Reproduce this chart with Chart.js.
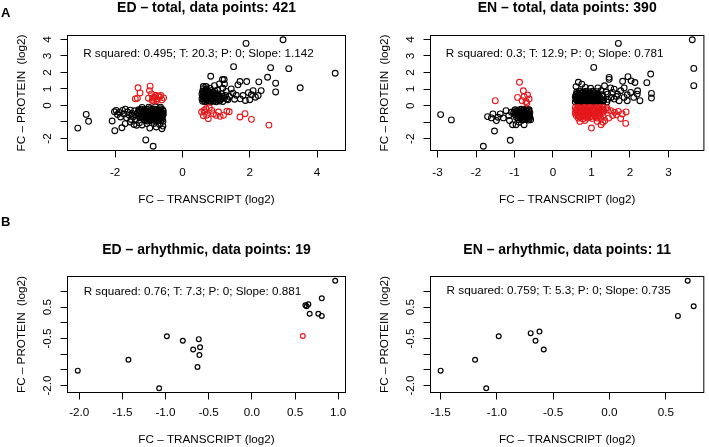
<!DOCTYPE html>
<html><head><meta charset="utf-8">
<script src="https://cdn.jsdelivr.net/npm/chart.js@4.4.1/dist/chart.umd.min.js"></script>
<style>
html,body{margin:0;padding:0;background:#fff;}
#wrap{position:relative;width:709px;height:447px;overflow:hidden;}
#wrap canvas{position:absolute;left:0;top:0;}
</style></head><body>
<div id="wrap">
<canvas id="c1" width="709" height="447"></canvas>
<canvas id="c2" width="709" height="447"></canvas>
<canvas id="c3" width="709" height="447"></canvas>
<canvas id="c4" width="709" height="447"></canvas>
</div>
<script>
// ---------- DATA (FC transcript log2, FC protein log2) ----------
const edTotalBlack = [
[-3.11,-1.37],[-2.86,-0.54],[-2.79,-0.96],[-2.09,-0.94],[-2.01,-1.53],[-1.80,-1.35],[-1.09,-2.09],[-0.87,-2.47],
[-2.02,-0.38],[-1.97,-0.3],[-1.93,-0.55],[-1.88,-0.42],[-1.84,-0.7],[-1.78,-0.3],[-1.74,-0.52],[-1.7,-0.22],[-1.66,-0.75],[-1.63,-0.4],[-1.58,-0.6],[-1.55,-0.28],[-1.52,-0.85],[-1.5,-0.48],[-1.46,-0.68],[-1.44,-1.15],[-1.42,-0.32],[-1.4,-0.9],[-1.38,-0.55],[-1.36,-1.2],[-1.7,-1.1],[-1.55,-1.0],[-1.28,-1.05],[-1.2,-1.18],
[-1.3,-0.26],[-1.22,-0.22],[-1.14,-0.27],[-1.06,-0.24],[-0.98,-0.2],[-0.9,-0.25],[-0.82,-0.22],[-0.74,-0.27],[-0.66,-0.2],[-0.59,-0.25],
[-1.28,-0.33],[-1.2,-0.35],[-1.12,-0.32],[-1.04,-0.34],[-0.96,-0.31],[-0.88,-0.35],[-0.8,-0.32],[-0.72,-0.34],[-0.64,-0.31],[-0.57,-0.35],
[-1.33,-0.44],[-1.26,-0.4],[-1.18,-0.45],[-1.1,-0.41],[-1.02,-0.43],[-0.94,-0.4],[-0.86,-0.44],[-0.78,-0.41],[-0.7,-0.45],[-0.62,-0.42],
[-1.28,-0.5],[-1.2,-0.52],[-1.12,-0.49],[-1.04,-0.51],[-0.96,-0.5],[-0.88,-0.52],[-0.8,-0.49],[-0.72,-0.51],[-0.64,-0.5],[-0.57,-0.52],
[-1.3,-0.6],[-1.22,-0.57],[-1.14,-0.61],[-1.06,-0.58],[-0.98,-0.6],[-0.9,-0.56],[-0.82,-0.6],[-0.74,-0.57],[-0.66,-0.61],[-0.58,-0.58],
[-1.24,-0.67],[-1.16,-0.69],[-1.08,-0.66],[-1.0,-0.68],[-0.92,-0.66],[-0.84,-0.69],[-0.76,-0.66],[-0.68,-0.68],[-0.6,-0.67],
[-1.27,-0.74],[-1.18,-0.77],[-1.1,-0.73],[-1.02,-0.76],[-0.94,-0.74],[-0.86,-0.78],[-0.78,-0.74],[-0.7,-0.77],[-0.62,-0.74],
[-1.08,-0.84],[-1.0,-0.83],[-0.92,-0.85],[-0.84,-0.83],[-0.76,-0.85],[-0.68,-0.83],[-0.6,-0.85],
[-1.12,-0.9],[-1.04,-0.94],[-0.96,-0.91],[-0.88,-0.95],[-0.8,-0.9],[-0.72,-0.93],[-0.64,-0.9],[-0.58,-0.96],
[-1.0,-0.1],[-0.8,-0.08],[-0.65,-0.1],[-1.2,-0.12],
[-0.97,-1.37],[-0.61,-1.41],[-0.68,-1.15],[-1.06,-1.1],[-0.85,-1.1],[-0.58,-1.25],[-0.78,-1.3],
[2.99,3.98],[1.89,3.76],[4.54,1.95],[3.50,1.07],[3.16,2.23],[2.62,2.29],[1.52,2.35],[2.53,1.71],[0.84,1.77],[2.77,1.35],[2.77,0.82],[2.27,1.43],[2.34,0.90],[1.91,1.45],[1.71,1.45],[1.19,1.57],[1.24,1.57],[1.10,1.31],[1.65,1.25],[1.96,0.78],[2.17,0.50],[1.87,0.30],[1.72,0.4],[1.6,0.62],[1.5,0.75],[1.4,0.55],[1.8,0.6],[2.05,0.65],[2.25,0.6],[1.3,0.85],[1.45,1.0],[1.2,1.05],[1.35,0.35],[1.55,0.38],[2.0,0.35],[2.1,0.9],[1.25,1.3],[0.95,1.2],[0.7,1.15],[0.62,1.15],
[0.6,0.25],[0.68,0.22],[0.76,0.27],[0.84,0.23],[0.92,0.26],[1.0,0.22],[1.1,0.27],[1.2,0.24],
[0.64,0.32],[0.72,0.33],[0.8,0.31],[0.88,0.33],[0.96,0.31],[1.04,0.33],[1.12,0.32],
[0.58,0.4],[0.66,0.42],[0.74,0.38],[0.82,0.41],[0.9,0.39],[0.98,0.42],[1.06,0.38],[1.14,0.41],[1.24,0.43],[1.32,0.4],
[0.62,0.48],[0.7,0.47],[0.78,0.49],[0.86,0.47],[0.94,0.48],[1.02,0.46],[1.1,0.49],
[0.6,0.55],[0.68,0.53],[0.76,0.57],[0.84,0.54],[0.92,0.56],[1.0,0.53],[1.08,0.57],[1.18,0.55],[1.28,0.6],
[0.64,0.63],[0.72,0.62],[0.8,0.64],[0.88,0.62],[0.96,0.63],[1.04,0.62],
[0.58,0.7],[0.66,0.72],[0.74,0.68],[0.82,0.71],[0.9,0.69],[0.98,0.73],[1.06,0.7],[1.16,0.72],
[0.62,0.79],[0.7,0.8],[0.8,0.78],[0.9,0.8],
[0.6,0.87],[0.68,0.9],[0.76,0.86],[0.86,0.9],[0.96,0.88],[1.05,0.92],[0.62,1.02],[0.72,1.0],[0.82,1.05]
];
const edTotalRed = [
[-1.32,1.07],[-1.26,0.76],[-1.34,0.44],[-1.40,0.40],[-0.96,1.17],[-0.92,0.70],[-1.01,0.44],[-0.98,0.9],[-0.88,0.45],
[-0.84,0.5],[-0.76,0.40],[-0.68,0.5],[-0.61,0.34],[-0.56,0.46],[-0.86,0.26],[-0.76,0.3],[-0.72,0.58],[-0.64,0.6],[-0.8,0.62],[-0.9,0.32],
[0.67,-0.40],[0.72,-0.6],[0.77,-0.80],[0.64,-0.3],[0.87,-0.3],[1.0,-0.6],[1.12,-0.66],[1.22,-0.6],[1.32,-0.34],[1.39,-0.38],
[1.71,-0.70],[1.86,-0.50],[2.05,-0.84],[2.57,-1.19],[0.57,-0.4],[0.8,-0.14],[0.92,-0.5],[1.07,-0.4],[0.62,-0.62],[0.7,-0.2]
];
const enTotalBlack = [
[-2.92,-0.54],[-2.64,-0.86],[-1.52,-1.53],[-1.81,-2.45],[-1.11,-2.09],
[-1.70,-0.66],[-1.6,-0.74],[-1.56,-0.5],[-1.43,-0.7],[-1.37,-0.5],[-1.29,-0.74],[-1.22,-0.3],[-1.15,-0.6],[-1.08,-0.4],[-1.05,-1.15],[-0.96,-1.15],[-0.88,-1.0],[-0.75,-1.15],[-0.58,-0.85],[-1.47,-0.9],[-1.13,-0.9],[-1.0,-0.3],
[-0.98,-0.24],[-0.9,-0.28],[-0.83,-0.22],[-0.76,-0.26],[-0.69,-0.2],[-0.62,-0.25],
[-0.94,-0.32],[-0.86,-0.33],[-0.78,-0.31],[-0.7,-0.33],[-0.63,-0.32],
[-1.02,-0.42],[-0.95,-0.38],[-0.88,-0.43],[-0.81,-0.39],[-0.74,-0.42],[-0.67,-0.38],[-0.6,-0.42],
[-0.94,-0.48],[-0.86,-0.47],[-0.78,-0.49],[-0.7,-0.47],[-0.63,-0.48],
[-0.98,-0.56],[-0.91,-0.53],[-0.84,-0.57],[-0.77,-0.54],[-0.7,-0.58],[-0.63,-0.55],
[-0.92,-0.63],[-0.84,-0.62],[-0.76,-0.64],[-0.68,-0.62],[-0.61,-0.63],
[-0.95,-0.72],[-0.88,-0.68],[-0.81,-0.72],[-0.74,-0.69],[-0.67,-0.73],[-0.6,-0.7],
[-0.85,-0.78],[-0.77,-0.79],[-0.69,-0.78],[-0.62,-0.8],
[-0.9,-0.84],[-0.8,-0.88],[-0.72,-0.84],[-0.64,-0.87],
[1.70,3.76],[3.62,3.98],[3.66,2.25],[3.66,1.21],[1.06,2.31],[2.54,1.91],[2.44,1.39],[2.56,0.74],[2.56,0.46],[2.26,0.30],[2.20,0.9],[1.95,1.75],[2.03,1.5],[2.13,1.4],[1.81,1.47],[1.46,1.71],[1.46,1.59],
[0.66,1.41],[0.75,1.3],[0.84,1.1],[0.98,1.05],[1.17,1.07],[1.34,1.2],[1.5,1.07],[0.6,1.15],
[1.59,1.0],[1.68,0.7],[1.76,0.9],[1.85,0.5],[1.93,0.66],[2.02,0.8],[2.1,0.5],[1.85,1.07],[1.72,0.3],[1.59,0.4],[1.51,0.5],[1.42,0.7],[1.93,0.3],[2.19,0.7],[1.55,0.8],[1.65,0.55],
[0.58,0.22],[0.65,0.2],[0.72,0.24],[0.79,0.21],[0.86,0.23],[0.93,0.2],[1.0,0.24],[1.07,0.21],[1.14,0.23],[1.22,0.2],[1.3,0.25],[1.4,0.22],
[0.62,0.3],[0.7,0.29],[0.78,0.31],[0.86,0.3],[0.94,0.29],[1.02,0.31],[1.1,0.3],[1.2,0.29],[1.3,0.31],
[0.6,0.37],[0.67,0.39],[0.74,0.35],[0.81,0.38],[0.88,0.36],[0.95,0.39],[1.02,0.35],[1.09,0.38],[1.16,0.36],[1.24,0.39],[1.32,0.35],[1.42,0.38],
[0.62,0.45],[0.7,0.44],[0.78,0.46],[0.86,0.44],[0.94,0.45],[1.02,0.44],[1.1,0.46],[1.2,0.45],
[0.58,0.52],[0.65,0.5],[0.72,0.54],[0.79,0.51],[0.86,0.53],[0.93,0.5],[1.0,0.54],[1.07,0.51],[1.14,0.53],[1.22,0.5],[1.3,0.55],
[0.62,0.6],[0.7,0.59],[0.78,0.61],[0.86,0.59],[0.94,0.6],[1.04,0.59],[1.14,0.61],
[0.6,0.67],[0.67,0.69],[0.74,0.65],[0.81,0.68],[0.88,0.66],[0.95,0.69],[1.02,0.65],[1.1,0.68],[1.18,0.7],[1.28,0.66],
[0.64,0.76],[0.74,0.75],[0.84,0.77],[0.94,0.76],[1.06,0.77],
[0.62,0.85],[0.7,0.88],[0.78,0.83],[0.86,0.87],[0.95,0.84],[1.04,0.88],[1.14,0.85],[1.25,0.9],[1.38,0.82]
];
const enTotalRed = [
[-1.50,0.30],[-0.87,1.41],[-0.77,0.90],[-0.92,0.50],[-0.66,0.64],[-0.62,0.4],[-0.8,0.3],[-0.7,0.25],[-0.75,0.55],[-0.68,0.15],
[0.58,-0.12],[0.66,-0.1],[0.74,-0.14],[0.82,-0.11],[0.9,-0.13],[0.98,-0.1],[1.06,-0.14],[1.14,-0.11],[1.22,-0.13],[1.3,-0.1],[1.4,-0.14],
[0.62,-0.2],[0.7,-0.19],[0.78,-0.21],[0.86,-0.2],[0.94,-0.19],[1.02,-0.21],[1.1,-0.2],[1.2,-0.19],[1.3,-0.21],
[0.6,-0.28],[0.68,-0.3],[0.76,-0.26],[0.84,-0.29],[0.92,-0.27],[1.0,-0.3],[1.08,-0.26],[1.16,-0.29],[1.24,-0.27],[1.32,-0.3],[1.42,-0.26],[1.5,-0.3],
[0.62,-0.36],[0.7,-0.35],[0.78,-0.37],[0.86,-0.35],[0.94,-0.36],[1.04,-0.35],[1.14,-0.37],[1.26,-0.36],
[0.58,-0.44],[0.66,-0.42],[0.74,-0.46],[0.82,-0.43],[0.9,-0.45],[0.98,-0.42],[1.06,-0.46],[1.14,-0.43],[1.22,-0.45],[1.3,-0.42],
[0.64,-0.52],[0.72,-0.51],[0.8,-0.53],[0.88,-0.51],[0.96,-0.52],[1.06,-0.51],[1.16,-0.53],
[0.6,-0.6],[0.68,-0.62],[0.76,-0.58],[0.84,-0.61],[0.92,-0.59],[1.0,-0.62],[1.1,-0.58],[1.2,-0.61],[1.3,-0.6],
[0.7,-0.68],[0.82,-0.69],[0.96,-0.68],[1.1,-0.69],
[0.66,-0.76],[0.78,-0.8],[0.9,-0.75],[1.02,-0.78],[1.15,-0.75],[1.25,-0.8],
[1.0,-1.35],[1.25,-1.15],[1.89,-1.07],[1.76,-0.78],[1.8,-0.5],[1.7,-0.35],[1.6,-0.4],[1.55,-0.6],[1.65,-0.55],[1.45,-0.75],[1.35,-0.9],[0.83,-0.9],[0.7,-0.95],[1.15,-0.95],[1.9,-0.38],[1.3,-1.0]
];
const edArrBlack = [
[-2.017,-1.525],[-1.43,-1.18],[-1.074,-2.085],[-0.985,-0.43],[-0.80,-0.57],[-0.68,-0.85],[-0.615,-0.52],[-0.60,-0.78],[-0.608,-1.03],[-0.63,-1.41],
[0.966,1.34],[0.81,0.78],[0.62,0.56],[0.635,0.53],[0.655,0.59],[0.67,0.29],[0.77,0.29],[0.81,0.22]
];
const edArrRed = [[0.59,-0.42]];
const enArrBlack = [
[-1.50,-1.525],[-1.194,-1.18],[-1.095,-2.085],[-0.984,-0.43],[-0.70,-0.33],[-0.657,-0.57],[-0.622,-0.28],[-0.584,-0.85],
[0.608,0.22],[0.695,1.34],[0.748,0.53]
];
const enArrRed = [];

const totalXTicksED = [-2, 0, 2, 4];
const totalXTicksEN = [-3, -2, -1, 0, 1, 2, 3];
const totalYTicks = [-2, -1, 0, 1, 2, 3, 4];
const totalYLabels = ['-2', '', '0', '1', '2', '3', '4'];
const arrXTicksED = [-2.0, -1.5, -1.0, -0.5, 0.0, 0.5, 1.0];
const arrXTicksEN = [-1.5, -1.0, -0.5, 0.0, 0.5];
const arrYTicks = [-2.0, -1.5, -1.0, -0.5, 0.0, 0.5, 1.0];
const arrYLabels = ['-2.0', '', '', '-0.5', '', '0.5', ''];

const titles = ['ED \u2013 total, data points: 421', 'EN \u2013 total, data points: 390',
                'ED \u2013 arhythmic, data points: 19', 'EN \u2013 arhythmic, data points: 11'];
const notes = ['R squared: 0.495; T: 20.3; P: 0; Slope: 1.142', 'R squared: 0.3; T: 12.9; P: 0; Slope: 0.781',
               'R squared: 0.76; T: 7.3; P: 0; Slope: 0.881', 'R squared: 0.759; T: 5.3; P: 0; Slope: 0.735'];

// ---------- RENDER ----------
const FONT = '"Liberation Sans", Arial, Helvetica, sans-serif';
const RED = '#e3191c';
const W = 709, H = 447;

const framePlugin = {
  id: 'frame',
  afterDraw(chart, args, o) {
    const ctx = chart.ctx, a = chart.chartArea;
    const xs = chart.scales.x, ys = chart.scales.y;
    ctx.save();
    ctx.strokeStyle = '#000'; ctx.fillStyle = '#000'; ctx.lineWidth = 1;
    ctx.strokeRect(a.left, a.top, a.right - a.left, a.bottom - a.top);
    ctx.font = '11.7px ' + FONT;
    ctx.textAlign = 'center'; ctx.textBaseline = 'middle';
    o.xTicks.forEach(v => {
      const p = xs.getPixelForValue(v);
      const px = Math.round(p - 0.5) + 0.5;
      ctx.beginPath(); ctx.moveTo(px, a.bottom); ctx.lineTo(px, a.bottom + 7); ctx.stroke();
      ctx.fillText(o.xFmt(v), p, a.bottom + o.tickGap);
    });
    o.yTicks.forEach((v, i) => {
      const p = ys.getPixelForValue(v);
      const py = Math.round(p - 0.5) + 0.5;
      ctx.beginPath(); ctx.moveTo(a.left - 7, py); ctx.lineTo(a.left, py); ctx.stroke();
      if (o.yLabels[i]) {
        ctx.save(); ctx.translate(a.left - 20, p); ctx.rotate(-Math.PI / 2);
        ctx.fillText(o.yLabels[i], 0, 0); ctx.restore();
      }
    });
    const cx = (a.left + a.right) / 2;
    ctx.fillText('FC \u2013 TRANSCRIPT (log2)', cx, a.bottom + o.titleGap);
    ctx.save(); ctx.translate(a.left - 46, (a.top + a.bottom) / 2); ctx.rotate(-Math.PI / 2);
    ctx.fillText('FC \u2013 PROTEIN  (log2)', 0, 0); ctx.restore();
    ctx.fillText(o.note, o.noteX, o.noteY);
    ctx.font = 'bold 14px ' + FONT;
    ctx.fillText(o.title, cx, o.titleY);
    if (o.letter) {
      ctx.font = 'bold 13px ' + FONT;
      ctx.textAlign = 'left';
      ctx.fillText(o.letter, 1, o.letterY);
    }
    ctx.restore();
  }
};

function panel(id, cfg) {
  const ds = [];
  ds.push({ data: cfg.red.map(p => ({x: p[0], y: p[1]})), borderColor: RED });
  ds.push({ data: cfg.black.map(p => ({x: p[0], y: p[1]})), borderColor: '#000' });
  ds.forEach(d => { d.backgroundColor = 'rgba(0,0,0,0)'; d.pointRadius = cfg.r; d.borderWidth = cfg.bw; d.pointStyle = 'circle'; });
  new Chart(document.getElementById(id), {
    type: 'scatter',
    data: { datasets: ds },
    options: {
      responsive: false, animation: false, devicePixelRatio: 1,
      layout: { padding: { left: cfg.box[0], top: cfg.box[1], right: W - cfg.box[2], bottom: H - cfg.box[3] } },
      scales: {
        x: { type: 'linear', min: cfg.xr[0], max: cfg.xr[1], display: false },
        y: { type: 'linear', min: cfg.yr[0], max: cfg.yr[1], display: false }
      },
      plugins: {
        legend: { display: false }, tooltip: { enabled: false },
        frame: {
          xTicks: cfg.xTicks, xFmt: cfg.xFmt, yTicks: cfg.yTicks, yLabels: cfg.yLabels,
          title: cfg.title, titleY: cfg.titleY, note: cfg.note, noteX: cfg.noteX, noteY: cfg.noteY,
          letter: cfg.letter, letterY: cfg.letterY, tickGap: cfg.tickGap, titleGap: cfg.titleGap
        }
      }
    },
    plugins: [framePlugin]
  });
}

const intFmt = v => String(v);
const decFmt = v => v.toFixed(1);

panel('c1', { black: edTotalBlack, red: edTotalRed, r: 2.9, bw: 1.1,
  box: [67.5, 35.5, 345.5, 150.5], xr: [-3.416, 4.846], yr: [-2.728, 4.238],
  xTicks: totalXTicksED, xFmt: intFmt, yTicks: totalYTicks, yLabels: totalYLabels, tickGap: 22.5, titleGap: 49.5,
  title: titles[0], titleY: 8, note: notes[0], noteX: 198.5, noteY: 54, letter: 'A', letterY: 13 });
panel('c2', { black: enTotalBlack, red: enTotalRed, r: 2.9, bw: 1.1,
  box: [430.5, 35.5, 708.5, 150.5], xr: [-3.183, 3.923], yr: [-2.707, 4.237],
  xTicks: totalXTicksEN, xFmt: intFmt, yTicks: totalYTicks, yLabels: totalYLabels, tickGap: 22.5, titleGap: 49.5,
  title: titles[1], titleY: 8, note: notes[1], noteX: 554.7, noteY: 54 });
panel('c3', { black: edArrBlack, red: edArrRed, r: 2.4, bw: 1.2,
  box: [67.5, 276.5, 345.5, 392.5], xr: [-2.136, 1.085], yr: [-2.222, 1.477],
  xTicks: arrXTicksED, xFmt: decFmt, yTicks: arrYTicks, yLabels: arrYLabels, tickGap: 20.5, titleGap: 47,
  title: titles[2], titleY: 250, note: notes[2], noteX: 192.5, noteY: 291.5, letter: 'B', letterY: 222.5 });
panel('c4', { black: enArrBlack, red: enArrRed, r: 2.4, bw: 1.2,
  box: [430.5, 276.5, 708.5, 392.5], xr: [-1.59, 0.838], yr: [-2.222, 1.477],
  xTicks: arrXTicksEN, xFmt: decFmt, yTicks: arrYTicks, yLabels: arrYLabels, tickGap: 20.5, titleGap: 47,
  title: titles[3], titleY: 250, note: notes[3], noteX: 558.7, noteY: 291 });
</script>
</body></html>
